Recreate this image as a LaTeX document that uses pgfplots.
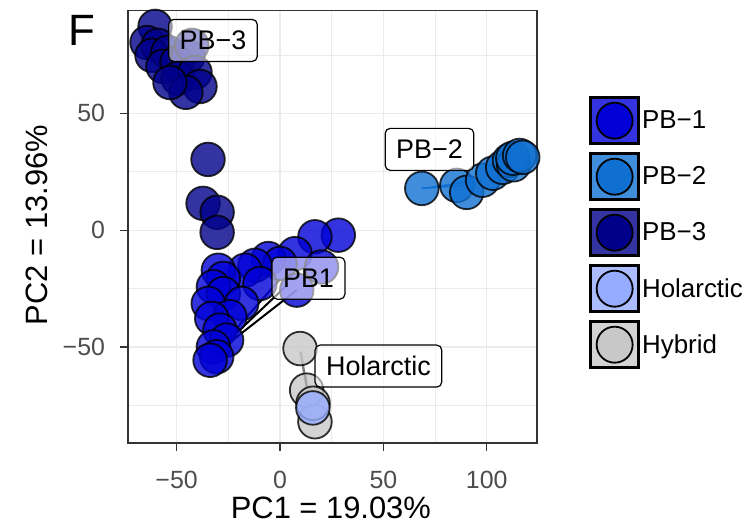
\documentclass[border=0pt]{standalone}
\usepackage{pgfplots}
\usepackage{pgfplotstable}
\pgfplotsset{compat=1.18}
\usepackage{fontspec}
\setmainfont{Liberation Sans}

\definecolor{pbone}{RGB}{0,0,215}
\definecolor{pbtwo}{RGB}{16,112,210}
\definecolor{pbthree}{RGB}{0,0,139}
\definecolor{holarc}{RGB}{150,172,255}
\definecolor{hybrid}{RGB}{200,200,200}
\definecolor{gridgray}{RGB}{235,235,235}
\definecolor{framegray}{RGB}{51,51,51}
\definecolor{ticktext}{RGB}{77,77,77}

% PCA scores per group
\pgfplotstableread{
x y
28.2 -2.1
16.9 -2.8
7.3 -10.0
-5.6 -12.1
0.0 -14.2
-12.1 -15.0
-16.9 -17.1
20.1 -15.7
8.1 -25.6
-9.7 -22.8
-29.8 -17.1
-27.4 -20.6
-32.2 -24.2
-27.4 -27.1
-18.5 -31.3
-34.7 -31.3
-24.2 -37.0
-33.0 -37.7
-29.0 -42.7
-25.8 -47.0
-32.2 -49.9
-30.6 -54.1
-33.8 -55.6
}\tblpbone

\pgfplotstableread{
x y
68.6 17.9
85.5 19.2
90.3 16.2
98.0 21.4
102.9 24.4
107.7 26.9
111.0 29.9
113.0 28.0
112.6 30.8
115.9 32.0
117.4 31.2
}\tblpbtwo

\pgfplotstableread{
x y
-60.4 87.2
-64.3 80.3
-59.0 79.1
-61.9 74.8
-54.2 76.1
-56.6 70.1
-49.8 71.8
-44.5 74.4
-42.6 79.1
-49.3 65.0
-41.1 67.5
-38.7 61.5
-45.5 59.0
-53.2 63.2
-34.8 30.3
-37.2 11.5
-30.4 7.7
-30.4 -0.9
}\tblpbthree

\pgfplotstableread{
x y
15.9 -76.0
}\tblholarc

\pgfplotstableread{
x y
9.7 -50.6
12.9 -68.4
16.9 -81.9
16.0 -74.0
}\tblhybrid

\pgfplotsset{
  grp/.style={only marks, mark=*, mark size=16.8bp,
    mark options={fill=#1, draw=black, line width=1.8bp,
      fill opacity=0.8, draw opacity=0.8}},
}
\tikzset{
  lab/.style={draw=black, line width=1.2bp, rounded corners=5bp,
    fill=white, fill opacity=0.55, text opacity=1,
    font=\fontsize{27}{30}\selectfont, inner xsep=11bp, inner ysep=0pt,
    minimum height=42bp, anchor=center},
}

\newcommand\keyimg[1]{%
  \addlegendimage{legend image code/.code={%
    \draw[fill=#1!80!white, draw=black, line width=3bp] (1.5bp,-23bp) rectangle (49.5bp,23bp);
    \draw[fill=#1, draw=black, line width=1.8bp] (25.5bp,0bp) circle (18bp);}}}

\begin{document}
\begin{tikzpicture}
\useasboundingbox (0,0) rectangle (755bp,527bp);
\begin{axis}[
  at={(128bp,84bp)}, anchor=south west,
  scale only axis, width=409bp, height=432.5bp,
  xmin=-73.5, xmax=124.3, ymin=-91, ymax=94,
  xtick={-50,0,50,100}, xticklabels={−50,0,50,100},
  ytick={-50,0,50}, yticklabels={−50,0,50},
  minor xtick={-25,25,75}, minor ytick={-75,-25,25,75},
  grid=both,
  major grid style={gridgray, line width=1.3bp},
  minor grid style={gridgray, line width=0.65bp},
  axis line style={framegray, line width=1.4bp},
  tick pos=left, tick align=outside,
  major tick length=7.5bp, minor tick length=0pt,
  tick style={framegray, line width=1.3bp},
  tick label style={font=\fontsize{25}{30}\selectfont, text=ticktext},
  xticklabel style={anchor=center, yshift=-29bp},
  yticklabel style={anchor=east, xshift=-12bp},
  xlabel={PC1 = 19.03\%}, ylabel={PC2 = 13.96\%},
  label style={font=\fontsize{31}{36}\selectfont},
  x label style={at={(axis description cs:0.496,0)}, anchor=center, yshift=-65bp},
  y label style={at={(axis description cs:-0.2225,0.504)}, anchor=center},
  legend style={at={(1.127,0.8023)}, anchor=north west, draw=none, fill=none,
    inner sep=0pt, row sep=7bp, font=\fontsize{26}{30}\selectfont,
    nodes={inner xsep=2bp}},
  legend cell align=left,
]
% links from each group's anchor point to its members
\addplot[black, line width=2bp, forget plot] coordinates {(-33,-54) (8.1,-25.6)};
\addplot[black, line width=2bp, forget plot] coordinates {(-33,-54) (4,-23)};
\addplot[black, line width=2bp, forget plot] coordinates {(-33,-54) (0,-21)};
\addplot[pbtwo, line width=1.5bp, forget plot] coordinates {(68.6,17.9) (98,21.4)};
\addplot[pbtwo, line width=1.5bp, forget plot] coordinates {(68.6,17.9) (95,19.5)};
\addplot[gray, line width=2.5bp, forget plot] coordinates {(10,-52) (13,-68)};
\addplot[black, line width=2bp, forget plot] coordinates {(12.2,-62) (13,-67)};

\addplot[grp=pbone, forget plot] table {\tblpbone};
\addplot[grp=pbtwo, forget plot] table {\tblpbtwo};
\addplot[grp=pbthree, forget plot] table {\tblpbthree};
\addplot[grp=hybrid, forget plot] table {\tblhybrid};
\addplot[grp=holarc, forget plot] table {\tblholarc};

\keyimg{pbone}\addlegendentry{PB−1}
\keyimg{pbtwo}\addlegendentry{PB−2}
\keyimg{pbthree}\addlegendentry{PB−3}
\keyimg{holarc}\addlegendentry{Holarctic}
\keyimg{hybrid}\addlegendentry{Hybrid}

% anchor points for the group labels
\coordinate (labthree) at (axis cs:-32.4,81.2);
\coordinate (labtwo) at (axis cs:72.3,34.6);
\coordinate (labone) at (axis cs:13.8,-20.5);
\coordinate (labhol) at (axis cs:47.6,-58.1);
\end{axis}
\node[lab] at (labthree) {PB−3};
\node[lab] at (labtwo) {PB−2};
\node[lab] at (labone) {PB1};
\node[lab] at (labhol) {Holarctic};
\node[font=\fontsize{44}{48}\selectfont] at (82bp,497bp) {F};
\end{tikzpicture}
\end{document}
